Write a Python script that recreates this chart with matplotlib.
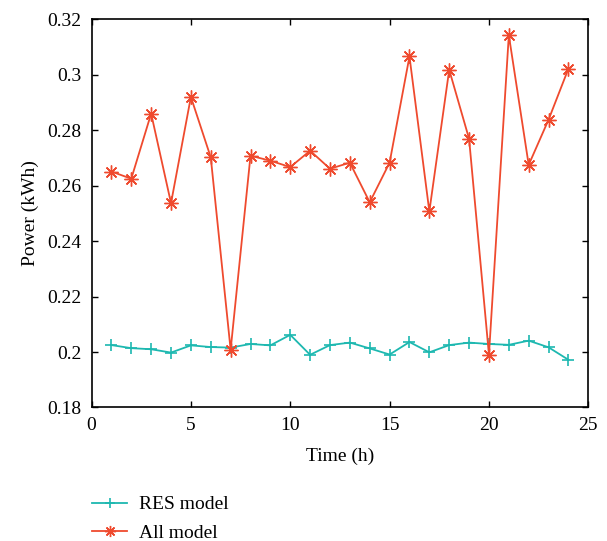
import numpy as np
import matplotlib
matplotlib.use('Agg')
import matplotlib.pyplot as plt
from matplotlib.ticker import FuncFormatter

# hours 1..24
hours = list(range(1, 25))
res_model = [0.2025, 0.2014, 0.2010, 0.1998, 0.2024, 0.2018, 0.2016, 0.2029,
             0.2024, 0.2062, 0.1990, 0.2025, 0.2034, 0.2013, 0.1991, 0.2036,
             0.1999, 0.2025, 0.2034, 0.2029, 0.2026, 0.2041, 0.2017, 0.1972]
all_model = [0.2651, 0.2625, 0.2860, 0.2537, 0.2920, 0.2702, 0.2008, 0.2708,
             0.2690, 0.2667, 0.2726, 0.2661, 0.2683, 0.2540, 0.2683, 0.3066,
             0.2507, 0.3018, 0.2769, 0.1990, 0.3143, 0.2675, 0.2838, 0.3022]

plt.rcParams['font.family'] = ['Liberation Serif', 'DejaVu Serif']

fig = plt.figure(figsize=(6.07, 5.41), dpi=100)
ax = fig.add_axes([0.1508, 0.2468, 0.8184, 0.7175])

l1, = ax.plot(hours, res_model, color='#1db8b0', marker='+', markersize=9,
              markeredgewidth=1.2, lw=1.3, label='RES model')
# matlab-style asterisk: 8 spokes
l2, = ax.plot(hours, all_model, color='#ef4a2e', marker=(8, 2, 0), markersize=10,
              markeredgewidth=1.0, lw=1.3, label='All model')

ax.set_xlim(0, 25)
ax.set_ylim(0.18, 0.32)
ax.set_xticks([0, 5, 10, 15, 20, 25])
ax.set_yticks(np.arange(0.18, 0.3201, 0.02))
ax.yaxis.set_major_formatter(FuncFormatter(lambda v, p: '%g' % round(v, 2)))
ax.tick_params(direction='in', top=True, right=True, labelsize=14, length=4, width=1)
ax.tick_params(axis='y', pad=7)
ax.tick_params(axis='x', pad=7)
for s in ax.spines.values():
    s.set_linewidth(1.2)

ax.set_xlabel('Time (h)', fontsize=14, labelpad=10)
ax.set_ylabel('Power (kWh)', fontsize=14, labelpad=6)

fig.legend(handles=[l1, l2], loc='upper left', bbox_to_anchor=(0.1235, 0.116),
           frameon=False, fontsize=14, handlelength=1.8, handletextpad=0.6,
           labelspacing=0.55, markerscale=0.8)

fig.savefig('out.png', dpi=100)
